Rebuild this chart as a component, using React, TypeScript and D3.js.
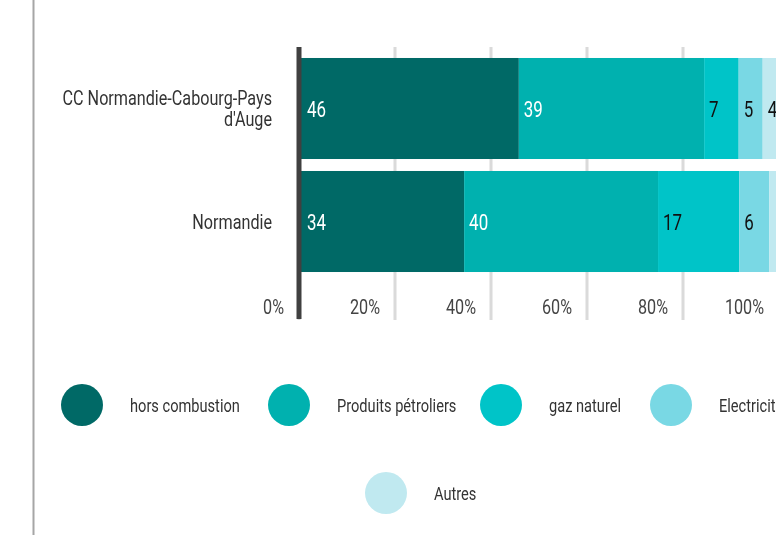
import React, { useEffect, useRef } from 'react';
import * as d3 from 'd3';

// Categories and series (share in %)
const categories = ['CC Normandie-Cabourg-Pays\nd\'Auge', 'Normandie'];
const series = ['hors combustion', 'Produits pétroliers', 'gaz naturel', 'Electricité', 'Autres'];
const horsCombustion = [45.8, 34.4];
const produitsPetroliers = [38.6, 40.4];
const gazNaturel = [7.2, 16.9];
const electricite = [5.0, 6.3];
const autres = [3.6, 2.0];
const tickValues = [0, 20, 40, 60, 80, 100];

const colors = ['#006966', '#00b1af', '#00c4c8', '#79d8e4', '#c0e9f0'];
const labelColors = ['#ffffff', '#ffffff', '#111111', '#111111', '#111111'];

// no condensed face installed, so the text is squeezed horizontally
const FONT = 'Roboto, "Liberation Sans", sans-serif';
const SX = 0.77;
const at = (px: number, py: number) => `translate(${px},${py}) scale(${SX},1)`;

const App = () => {
  const ref = useRef<SVGSVGElement | null>(null);

  useEffect(() => {
    const width = 776;
    const height = 535;
    const svg = d3.select(ref.current!);
    svg.selectAll('*').remove();
    svg.attr('width', width).attr('height', height).style('display', 'block').style('font-family', FONT);

    const values = [horsCombustion, produitsPetroliers, gazNaturel, electricite, autres];
    const rows = categories.map((c, i) => {
      let acc = 0;
      return {
        category: c,
        segments: values.map((v, s) => {
          const seg = { key: series[s], start: acc, value: v[i], index: s };
          acc += v[i];
          return seg;
        })
      };
    });

    const x = d3.scaleLinear().domain([0, 100]).range([299, 779]);
    const y = d3.scaleBand().domain(categories).range([52, 278]).paddingInner(0.106).paddingOuter(0.053);

    // page border line on the left
    svg.append('line')
      .attr('x1', 33.5).attr('x2', 33.5).attr('y1', 0).attr('y2', height)
      .attr('stroke', '#a6a6a6').attr('stroke-width', 2);

    // gridlines
    svg.append('g').selectAll('line')
      .data(tickValues)
      .enter()
      .append('line')
      .attr('x1', d => x(d)).attr('x2', d => x(d))
      .attr('y1', 47).attr('y2', 320)
      .attr('stroke', '#dadada').attr('stroke-width', 3);

    // tick labels
    svg.append('g').selectAll('text')
      .data(tickValues)
      .enter()
      .append('text')
      .attr('transform', d => at(x(d) - 15, 314))
      .attr('text-anchor', 'end')
      .attr('font-size', 21)
      .attr('fill', '#444')
      .text(d => `${d}%`);

    // bars
    const rowG = svg.append('g').selectAll('g')
      .data(rows)
      .enter()
      .append('g')
      .attr('transform', d => `translate(0,${y(d.category)})`);

    rowG.selectAll('rect')
      .data(d => d.segments)
      .enter()
      .append('rect')
      .attr('x', d => x(d.start))
      .attr('width', d => x(d.start + d.value) - x(d.start))
      .attr('y', 0)
      .attr('height', y.bandwidth())
      .attr('fill', d => colors[d.index]);

    // value labels, hidden on very thin segments
    rowG.selectAll('text')
      .data(d => d.segments.filter(s => s.value >= 3))
      .enter()
      .append('text')
      .attr('transform', d => at(x(d.start) + (d.index === 0 ? 8 : 5), y.bandwidth() / 2 + 8))
      .attr('font-size', 22)
      .attr('fill', d => labelColors[d.index])
      .text(d => Math.round(d.value));

    // axis bar
    svg.append('line')
      .attr('x1', x(0)).attr('x2', x(0))
      .attr('y1', 47).attr('y2', 319)
      .attr('stroke', '#404040').attr('stroke-width', 5);

    // category labels
    categories.forEach(c => {
      const lines = c.split('\n');
      const cy = y(c)! + y.bandwidth() / 2;
      lines.forEach((ln, i) => {
        svg.append('text')
          .attr('transform', at(272, cy + 7 + (i - (lines.length - 1) / 2) * 21))
          .attr('text-anchor', 'end')
          .attr('font-size', 21)
          .attr('fill', '#333')
          .text(ln);
      });
    });

    // legend
    const legendPos = [
      { cx: 82, cy: 405 },
      { cx: 289, cy: 405 },
      { cx: 501, cy: 405 },
      { cx: 671, cy: 405 },
      { cx: 386, cy: 493 }
    ];
    const legend = svg.append('g').selectAll('g')
      .data(series)
      .enter()
      .append('g')
      .attr('transform', (d, i) => `translate(${legendPos[i].cx},${legendPos[i].cy})`);
    legend.append('circle')
      .attr('r', 21)
      .attr('fill', (d, i) => colors[i]);
    legend.append('text')
      .attr('transform', at(48, 7))
      .attr('font-size', 19)
      .attr('fill', '#333')
      .text(d => d);
  }, []);

  return (
    <div style={{ position: 'fixed', top: 0, left: 0, width: 776, height: 535, overflow: 'hidden' }}>
      <svg ref={ref} />
    </div>
  );
};

export default App;
